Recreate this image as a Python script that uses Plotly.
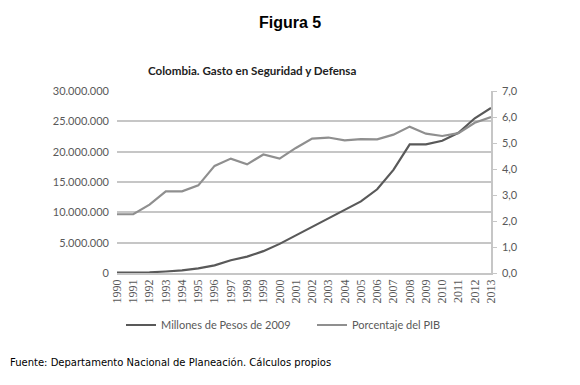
import plotly.graph_objects as go

years = [str(y) for y in range(1990, 2014)]
millones = [50000, 70000, 120000, 250000, 420000, 750000, 1250000, 2100000,
            2700000, 3600000, 4800000, 6200000, 7600000, 8900000, 10400000,
            11800000, 13800000, 17000000, 21200000, 21200000, 21800000,
            23100000, 25500000, 27200000]
porcentaje = [2.26, 2.26, 2.63, 3.14, 3.14, 3.37, 4.12, 4.40, 4.18, 4.56, 4.40,
              4.81, 5.17, 5.21, 5.10, 5.15, 5.14, 5.32, 5.63, 5.36, 5.27, 5.38,
              5.78, 6.00]
left_ticks = [0, 5000000, 10000000, 15000000, 20000000, 25000000, 30000000]
right_ticks = [0, 1, 2, 3, 4, 5, 6, 7]

dark = "#595959"
light = "#8f8f8f"
grid = "#c6c6c6"
tickcol = "#595959"

W, H = 580, 385
ML, MR, MT, MB = 117, 89, 91, 112
pw = W - ML - MR
ph = H - MT - MB


def px(x):
    return (x - ML) / pw


def py(y):
    return (H - MB - y) / ph


fig = go.Figure()
fig.add_trace(go.Scatter(x=years, y=millones, mode="lines", name="Millones de Pesos de 2009",
                         line=dict(color=dark, width=2.2), yaxis="y", legend="legend"))
fig.add_trace(go.Scatter(x=years, y=porcentaje, mode="lines", name="Porcentaje del PIB",
                         line=dict(color=light, width=2.2), yaxis="y2", legend="legend2"))

leg_common = dict(yref="container", xref="container", xanchor="left", yanchor="middle",
                  orientation="h", bgcolor="rgba(0,0,0,0)",
                  font=dict(size=11, color=tickcol), itemwidth=30)

fig.update_layout(
    width=W, height=H,
    paper_bgcolor="white", plot_bgcolor="white",
    separators=",.",
    margin=dict(l=ML, r=MR, t=MT, b=MB, autoexpand=False),
    font=dict(family="Lato, Liberation Sans, sans-serif", size=11, color=tickcol),
    xaxis=dict(type="category", showgrid=False, showline=True, linecolor=grid, linewidth=1.5,
               ticks="", tickangle=-90, dtick=1, automargin=False,
               tickfont=dict(family="Liberation Serif, serif", size=12, color=tickcol)),
    yaxis=dict(range=[0, 30000000], tickvals=left_ticks, tickformat=",d",
               showgrid=True, gridcolor=grid, gridwidth=1.5, zeroline=False,
               showline=False, ticks="", automargin=False, ticklabelstandoff=7,
               tickfont=dict(size=11)),
    yaxis2=dict(range=[0, 7], tickvals=right_ticks, tickformat=".1f", overlaying="y",
                side="right", showgrid=False, zeroline=False, showline=True,
                linecolor=grid, linewidth=1.5, ticks="outside", ticklen=4, tickcolor=grid,
                automargin=False, ticklabelstandoff=3, tickfont=dict(size=11)),
    showlegend=True,
    legend=dict(x=121 / W, y=1 - 325 / H, **leg_common),
    legend2=dict(x=312 / W, y=1 - 325 / H, **leg_common),
    annotations=[
        dict(text="<b>Figura 5</b>", x=px(290), y=py(22), xref="paper", yref="paper",
             xanchor="center", yanchor="middle", showarrow=False,
             font=dict(family="Liberation Sans, Arial", size=16, color="black")),
        dict(text="<b>Colombia. Gasto en Seguridad y Defensa</b>", x=px(252), y=py(70),
             xref="paper", yref="paper", xanchor="center", yanchor="middle",
             showarrow=False, font=dict(size=11.6, color="#222222")),
        dict(text="Fuente: Departamento Nacional de Planeación. Cálculos propios",
             x=px(8), y=py(362), xref="paper", yref="paper", xanchor="left",
             yanchor="middle", showarrow=False,
             font=dict(family="DejaVu Sans", size=10, color="black")),
    ],
)

fig.write_html("out.html", config={"displayModeBar": False},
               post_script="document.body.style.margin='0';document.body.style.padding='0';")
